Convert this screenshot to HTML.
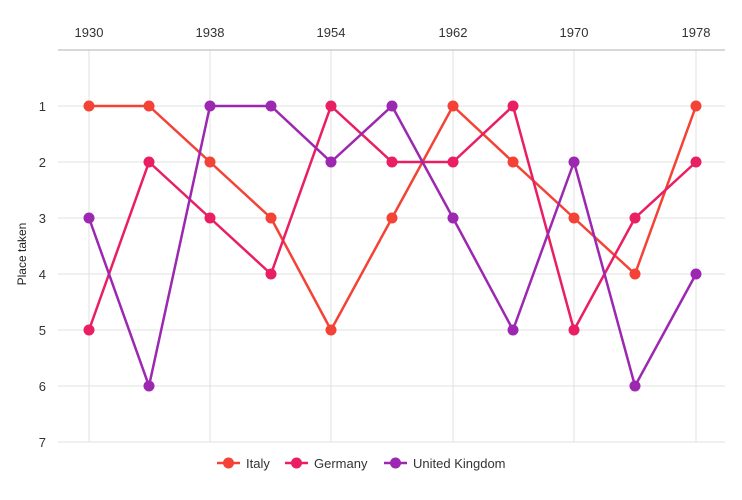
<!DOCTYPE html>
<html><head><style>body{margin:0;background:#fff}svg{display:block;font-family:"Liberation Sans",sans-serif}</style></head>
<body>
<svg width="742" height="500" viewBox="0 0 742 500">
<g stroke="#e0e0e0" stroke-width="1">
<line x1="58" x2="725" y1="106" y2="106"/><line x1="58" x2="725" y1="162" y2="162"/>
<line x1="58" x2="725" y1="218" y2="218"/><line x1="58" x2="725" y1="274" y2="274"/>
<line x1="58" x2="725" y1="330" y2="330"/><line x1="58" x2="725" y1="386" y2="386"/>
<line x1="58" x2="725" y1="442" y2="442"/>
<line x1="89" x2="89" y1="50" y2="442"/><line x1="210" x2="210" y1="50" y2="442"/>
<line x1="331" x2="331" y1="50" y2="442"/><line x1="453" x2="453" y1="50" y2="442"/>
<line x1="574" x2="574" y1="50" y2="442"/><line x1="696" x2="696" y1="50" y2="442"/>
</g>
<line x1="58" x2="725" y1="50" y2="50" stroke="#b0b0b0"/>
<g font-size="13" fill="#333" text-anchor="middle">
<text x="89" y="37">1930</text><text x="210" y="37">1938</text><text x="331" y="37">1954</text>
<text x="453" y="37">1962</text><text x="574" y="37">1970</text><text x="696" y="37">1978</text>
</g>
<g font-size="13" fill="#333" text-anchor="end">
<text x="46" y="111">1</text><text x="46" y="167">2</text><text x="46" y="223">3</text>
<text x="46" y="279">4</text><text x="46" y="335">5</text><text x="46" y="391">6</text><text x="46" y="447">7</text>
</g>
<text transform="translate(26,254) rotate(-90)" font-size="12" fill="#222" text-anchor="middle">Place taken</text>
<g fill="none" stroke-width="2.5" stroke-linejoin="round">
<polyline stroke="#f44336" points="89,106 149,106 210,162 271,218 331,330 392,218 453,106 513,162 574,218 635,274 696,106"/>
<polyline stroke="#e91e63" points="89,330 149,162 210,218 271,274 331,106 392,162 453,162 513,106 574,330 635,218 696,162"/>
<polyline stroke="#9c27b0" points="89,218 149,386 210,106 271,106 331,162 392,106 453,218 513,330 574,162 635,386 696,274"/>
</g>
<g fill="#f44336"><circle cx="89" cy="106" r="5.5"/><circle cx="149" cy="106" r="5.5"/><circle cx="210" cy="162" r="5.5"/><circle cx="271" cy="218" r="5.5"/><circle cx="331" cy="330" r="5.5"/><circle cx="392" cy="218" r="5.5"/><circle cx="453" cy="106" r="5.5"/><circle cx="513" cy="162" r="5.5"/><circle cx="574" cy="218" r="5.5"/><circle cx="635" cy="274" r="5.5"/><circle cx="696" cy="106" r="5.5"/></g>
<g fill="#e91e63"><circle cx="89" cy="330" r="5.5"/><circle cx="149" cy="162" r="5.5"/><circle cx="210" cy="218" r="5.5"/><circle cx="271" cy="274" r="5.5"/><circle cx="331" cy="106" r="5.5"/><circle cx="392" cy="162" r="5.5"/><circle cx="453" cy="162" r="5.5"/><circle cx="513" cy="106" r="5.5"/><circle cx="574" cy="330" r="5.5"/><circle cx="635" cy="218" r="5.5"/><circle cx="696" cy="162" r="5.5"/></g>
<g fill="#9c27b0"><circle cx="89" cy="218" r="5.5"/><circle cx="149" cy="386" r="5.5"/><circle cx="210" cy="106" r="5.5"/><circle cx="271" cy="106" r="5.5"/><circle cx="331" cy="162" r="5.5"/><circle cx="392" cy="106" r="5.5"/><circle cx="453" cy="218" r="5.5"/><circle cx="513" cy="330" r="5.5"/><circle cx="574" cy="162" r="5.5"/><circle cx="635" cy="386" r="5.5"/><circle cx="696" cy="274" r="5.5"/></g>
<g font-size="13" fill="#333">
<line x1="217" x2="240" y1="463" y2="463" stroke="#f44336" stroke-width="2.5"/><circle cx="228.5" cy="463" r="5.5" fill="#f44336"/><text x="246" y="468">Italy</text>
<line x1="285" x2="308" y1="463" y2="463" stroke="#e91e63" stroke-width="2.5"/><circle cx="296.5" cy="463" r="5.5" fill="#e91e63"/><text x="314" y="468">Germany</text>
<line x1="384" x2="407" y1="463" y2="463" stroke="#9c27b0" stroke-width="2.5"/><circle cx="395.5" cy="463" r="5.5" fill="#9c27b0"/><text x="413" y="468">United Kingdom</text>
</g>
</svg>
</body></html>
